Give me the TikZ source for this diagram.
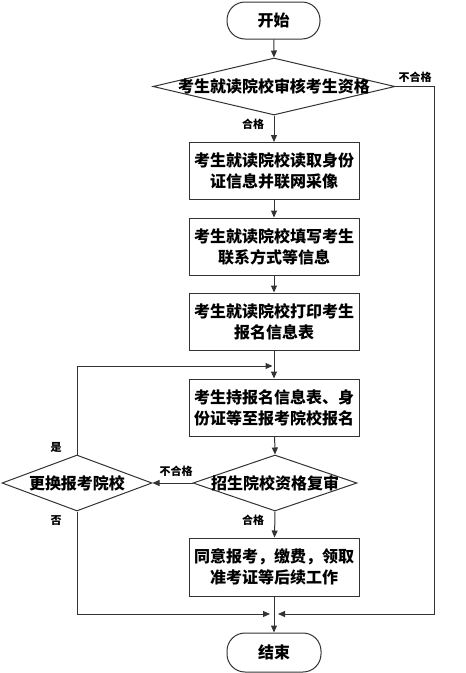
\documentclass[tikz,border=0pt]{standalone}
\usepackage{fontspec}
\newfontfamily\cjk{Noto Sans CJK SC}
\usetikzlibrary{shapes.geometric,arrows.meta}
\begin{document}
\begin{tikzpicture}[x=1pt,y=-1pt,
  line/.style={draw=black!80,line width=1pt},
  arr/.style={line,-{Triangle[length=7pt,width=6pt]}},
  txt/.style={font=\cjk\bfseries\fontsize{16pt}{21pt}\selectfont,align=center,inner sep=0pt},
  lbl/.style={font=\cjk\bfseries\fontsize{11pt}{13pt}\selectfont,inner sep=0pt},
  term/.style={line,rectangle,rounded corners=18pt,minimum width=93pt,minimum height=37pt,txt},
  box/.style={line,rectangle,minimum width=170pt,minimum height=57pt,txt},
  dia/.style={line,diamond,inner sep=0pt}]
\useasboundingbox (0,0) rectangle (466,673);
\fill[white] (0,0) rectangle (466,673);
% nodes
\node[term] (start) at (273.5,20.5) {开始};
\node[dia,minimum width=242pt,minimum height=57pt] (d1) at (274,86.5) {};
\node[txt] (d1t) at (d1.center) {考生就读院校审核考生资格};
\node[box] (b1) at (274,171) {考生就读院校读取身份\\证信息并联网采像};
\node[box] (b2) at (274,246.5) {考生就读院校填写考生\\联系方式等信息};
\node[box] (b3) at (274,321.5) {考生就读院校打印考生\\报名信息表};
\coordinate (j1) at (274,366);
\node[box] (b4) at (274,407.5) {考生持报名信息表、身\\份证等至报考院校报名};
\node[dia,minimum width=164pt,minimum height=56pt] (d2) at (275,483) {};
\node[txt] (d2t) at (d2.center) {招生院校资格复审};
\node[dia,minimum width=150pt,minimum height=56pt] (d3) at (77,483) {};
\node[txt] (d3t) at (d3.center) {更换报考院校};
\node[box,minimum height=58pt] (b5) at (274,567) {同意报考，缴费，领取\\准考证等后续工作};
\coordinate (j2) at (274,614);
\node[term,minimum width=94pt,minimum height=39pt] (end) at (274,652.5) {结束};
\coordinate (r1) at (434,86.5);
\coordinate (r2) at (434,614);
\coordinate (c1) at (77,366);
\coordinate (c2) at (77,614);
% labels
\node[lbl] (l1) at (415,77) {不合格};
\node[lbl] (l2) at (253,124) {合格};
\node[lbl] (l3) at (176,471) {不合格};
\node[lbl] (l4) at (253,520) {合格};
\node[lbl] (l5) at (56,447) {是};
\node[lbl] (l6) at (56,521) {否};
% connectors
\draw[arr] (start) -- (d1.north);
\draw[arr] (d1.south) -- (b1);
\draw[arr] (b1) -- (b2);
\draw[arr] (b2) -- (b3);
\draw[line] (b3) -- (j1);
\draw[arr] (j1) -- (b4);
\draw[arr] (b4) -- (d2.north);
\draw[arr] (d2.west) -- (d3.east);
\draw[arr] (d2.south) -- (b5);
\draw[arr] (b5) -- (end);
\draw[arr,shorten >=1.5pt] (d3.north) -- (c1) -- (j1);
\draw[arr,shorten >=4pt] (d3.south) -- (c2) -- (j2);
\draw[arr,shorten >=4pt] (d1.east) -- (r1) -- (r2) -- (j2);
\end{tikzpicture}
\end{document}
